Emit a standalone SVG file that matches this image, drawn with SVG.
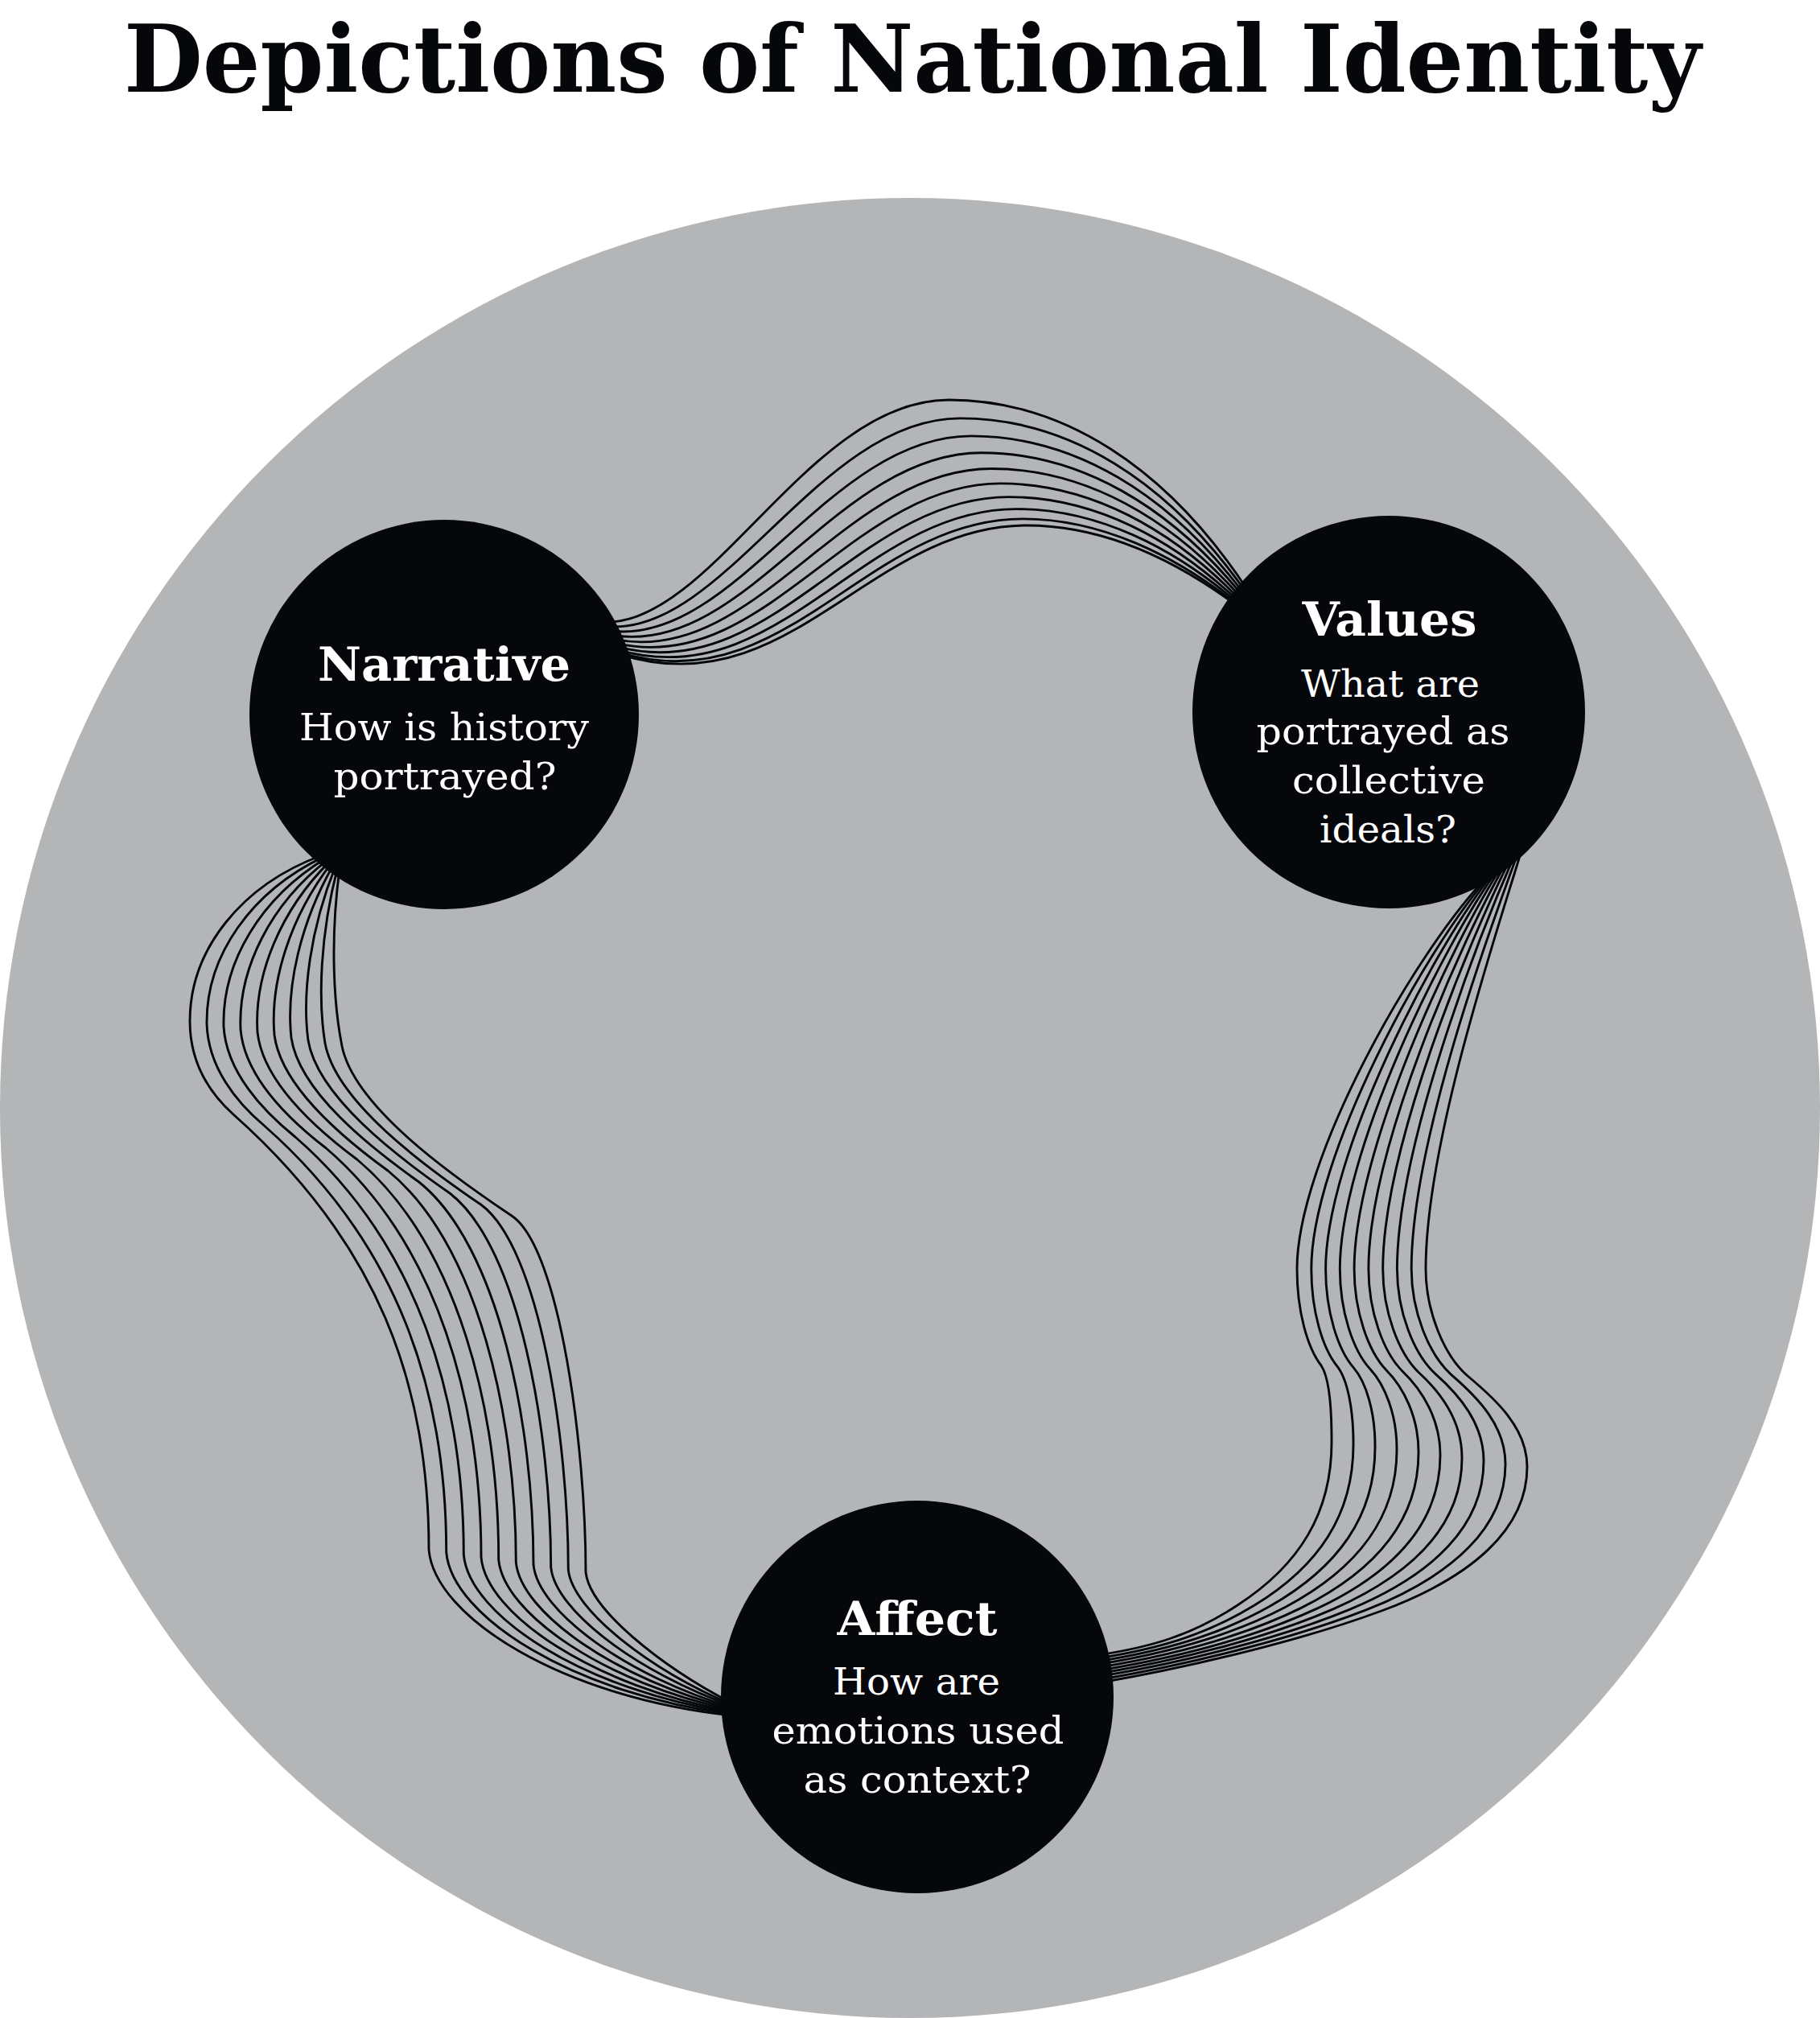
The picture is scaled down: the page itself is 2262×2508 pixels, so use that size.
<svg xmlns="http://www.w3.org/2000/svg" width="2262" height="2508" viewBox="0 0 2262 2508">
<style>
.bg{fill:#b4b5b7}
.node{fill:#05070a}
.ln{fill:none;stroke:#05070a;stroke-width:2.9;stroke-linecap:round}
.title{font-family:"DejaVu Serif","Liberation Serif",serif;font-weight:bold;font-size:116px;fill:#05070a}
.h{font-family:"DejaVu Serif","Liberation Serif",serif;font-weight:bold;font-size:58px;fill:#ffffff;text-anchor:middle}
.t{font-family:"DejaVu Serif","Liberation Serif",serif;font-size:47px;fill:#ffffff;text-anchor:middle}
</style>
<rect width="2262" height="2508" fill="#ffffff"/>
<text class="title" x="154" y="114" textLength="1960" lengthAdjust="spacingAndGlyphs">Depictions of National Identity</text>
<circle class="bg" cx="1131" cy="1377" r="1131"/>
<g id="connectors">
<g id="narrative-values">
<path class="ln" d="M760,773 C890,765 1010,497 1179,497 C1320,497 1450,580 1551,734"/>
<path class="ln" d="M761.5,778.9 C903.2,781.9 1020.3,519.9 1193.3,519.9 C1327.4,519.9 1451.5,596.9 1549.2,736.9"/>
<path class="ln" d="M762.9,784.5 C915.9,798.1 1030.2,541.9 1206.9,541.9 C1334.4,541.9 1452.9,613.1 1547.5,739.8"/>
<path class="ln" d="M764.2,789.9 C928,813.5 1039.5,562.8 1219.9,562.8 C1341.1,562.8 1454.2,628.5 1545.9,742.4"/>
<path class="ln" d="M765.5,794.9 C939.3,828 1048.4,582.5 1232.2,582.5 C1347.4,582.5 1455.5,643 1544.4,745"/>
<path class="ln" d="M766.7,799.6 C949.9,841.6 1056.6,600.9 1243.6,600.9 C1353.3,600.9 1456.7,656.6 1543,747.3"/>
<path class="ln" d="M767.7,803.9 C959.6,853.9 1064.1,617.6 1254,617.6 C1358.7,617.6 1457.7,668.9 1541.7,749.5"/>
<path class="ln" d="M768.7,807.8 C968.2,864.9 1070.8,632.6 1263.3,632.6 C1363.5,632.6 1458.7,679.9 1540.6,751.4"/>
<path class="ln" d="M769.5,810.9 C975.3,874 1076.4,644.9 1271,644.9 C1367.4,644.9 1459.5,689 1539.6,753"/>
<path class="ln" d="M770,813 C980,880 1080,653 1276,653 C1370,653 1460,695 1539,754"/>
</g>
<g id="narrative-affect">
<path class="ln" d="M400,1063 C300,1100 236,1180 236,1269 C236,1320 260,1358 290,1385 C470,1545 533,1720 533,1926 C540,2010 700,2110 910,2132"/>
<path class="ln" d="M402.4,1064.9 C312.2,1107.8 255.9,1187.8 257,1272.4 C258.7,1326.1 293.3,1369.3 328.4,1399 C495.1,1545.7 554.7,1728.9 554.7,1929.1 C561.4,2008.9 713.3,2105.6 910,2130.3"/>
<path class="ln" d="M404.9,1066.8 C324.4,1115.6 275.8,1195.6 278,1275.9 C281.3,1332.2 326.7,1380.7 366.9,1413 C520.2,1546.3 576.3,1737.8 576.3,1932.2 C582.9,2007.8 726.7,2101.1 910,2128.7"/>
<path class="ln" d="M407.3,1068.7 C336.7,1123.3 295.7,1203.3 299,1279.3 C304,1338.3 360,1392 405.3,1427 C545.3,1547 598,1746.7 598,1935.3 C604.3,2006.7 740,2096.7 910,2127"/>
<path class="ln" d="M409.8,1070.6 C348.9,1131.1 315.6,1211.1 320,1282.8 C326.7,1344.4 393.3,1403.3 443.8,1441 C570.4,1547.7 619.7,1755.6 619.7,1938.4 C625.8,2005.6 753.3,2092.2 910,2125.3"/>
<path class="ln" d="M412.2,1072.4 C361.1,1138.9 335.4,1218.9 341,1286.2 C349.3,1350.6 426.7,1414.7 482.2,1455 C595.6,1548.3 641.3,1764.4 641.3,1941.6 C647.2,2004.4 766.7,2087.8 910,2123.7"/>
<path class="ln" d="M414.7,1074.3 C373.3,1146.7 355.3,1226.7 362,1289.7 C372,1356.7 460,1426 520.7,1469 C620.7,1549 663,1773.3 663,1944.7 C668.7,2003.3 780,2083.3 910,2122"/>
<path class="ln" d="M417.1,1076.2 C385.6,1154.4 375.2,1234.4 383,1293.1 C394.7,1362.8 493.3,1437.3 559.1,1483 C645.8,1549.7 684.7,1782.2 684.7,1947.8 C690.1,2002.2 793.3,2078.9 910,2120.3"/>
<path class="ln" d="M419.6,1078.1 C397.8,1162.2 395.1,1242.2 404,1296.6 C417.3,1368.9 526.7,1448.7 597.6,1497 C670.9,1550.3 706.3,1791.1 706.3,1950.9 C711.6,2001.1 806.7,2074.4 910,2118.7"/>
<path class="ln" d="M422,1080 C410,1170 415,1250 425,1300 C440,1375 560,1460 636,1511 C696,1551 728,1800 728,1954 C733,2000 820,2070 910,2117"/>
</g>
<g id="values-affect">
<path class="ln" d="M1850,1088 C1760,1180 1612,1440 1612,1577 C1612,1630 1625,1675 1642,1697 C1652,1712 1655,1750 1655,1789 C1656,1880 1615,1945 1538,1995 C1480,2033 1430,2047 1365,2057"/>
<path class="ln" d="M1854.6,1084.6 C1771.1,1177.8 1629.8,1437.8 1629.8,1577 C1629.8,1630 1643.9,1676.1 1662.2,1698.4 C1675.1,1715.1 1682,1752.8 1682,1792.8 C1682.9,1882.2 1638.9,1946.7 1557.9,1995.8 C1495.6,2033.6 1435.6,2049.8 1365.3,2060.8"/>
<path class="ln" d="M1859.1,1081.1 C1782.2,1175.6 1647.6,1435.6 1647.6,1577 C1647.6,1630 1662.8,1677.2 1682.4,1699.9 C1698.2,1718.2 1709,1755.6 1709,1796.6 C1709.8,1884.4 1662.8,1948.3 1577.8,1996.6 C1511.1,2034.1 1441.1,2052.6 1365.7,2064.6"/>
<path class="ln" d="M1863.7,1077.7 C1793.3,1173.3 1665.3,1433.3 1665.3,1577 C1665.3,1630 1681.7,1678.3 1702.7,1701.3 C1721.3,1721.3 1736,1758.3 1736,1800.3 C1736.7,1886.7 1686.7,1950 1597.7,1997.3 C1526.7,2034.7 1446.7,2055.3 1366,2068.3"/>
<path class="ln" d="M1868.2,1074.2 C1804.4,1171.1 1683.1,1431.1 1683.1,1577 C1683.1,1630 1700.6,1679.4 1722.9,1702.8 C1744.4,1724.4 1763,1761.1 1763,1804.1 C1763.6,1888.9 1710.6,1951.7 1617.6,1998.1 C1542.2,2035.2 1452.2,2058.1 1366.3,2072.1"/>
<path class="ln" d="M1872.8,1070.8 C1815.6,1168.9 1700.9,1428.9 1700.9,1577 C1700.9,1630 1719.4,1680.6 1743.1,1704.2 C1767.6,1727.6 1790,1763.9 1790,1807.9 C1790.4,1891.1 1734.4,1953.3 1637.4,1998.9 C1557.8,2035.8 1457.8,2060.9 1366.7,2075.9"/>
<path class="ln" d="M1877.3,1067.3 C1826.7,1166.7 1718.7,1426.7 1718.7,1577 C1718.7,1630 1738.3,1681.7 1763.3,1705.7 C1790.7,1730.7 1817,1766.7 1817,1811.7 C1817.3,1893.3 1758.3,1955 1657.3,1999.7 C1573.3,2036.3 1463.3,2063.7 1367,2079.7"/>
<path class="ln" d="M1881.9,1063.9 C1837.8,1164.4 1736.4,1424.4 1736.4,1577 C1736.4,1630 1757.2,1682.8 1783.6,1707.1 C1813.8,1733.8 1844,1769.4 1844,1815.4 C1844.2,1895.6 1782.2,1956.7 1677.2,2000.4 C1588.9,2036.9 1468.9,2066.4 1367.3,2083.4"/>
<path class="ln" d="M1886.4,1060.4 C1848.9,1162.2 1754.2,1422.2 1754.2,1577 C1754.2,1630 1776.1,1683.9 1803.8,1708.6 C1836.9,1736.9 1871,1772.2 1871,1819.2 C1871.1,1897.8 1806.1,1958.3 1697.1,2001.2 C1604.4,2037.4 1474.4,2069.2 1367.7,2087.2"/>
<path class="ln" d="M1891,1057 C1860,1160 1772,1420 1772,1577 C1772,1630 1795,1685 1824,1710 C1860,1740 1898,1775 1898,1823 C1898,1900 1830,1960 1717,2002 C1620,2038 1480,2072 1368,2091"/>
</g>
</g>
<g id="narrative">
<circle class="node" cx="552" cy="888" r="242"/>
<text class="h" x="552" y="846" textLength="314" lengthAdjust="spacingAndGlyphs">Narrative</text>
<text class="t" x="552" y="920" textLength="360" lengthAdjust="spacingAndGlyphs">How is history</text>
<text class="t" x="553" y="981" textLength="277" lengthAdjust="spacingAndGlyphs">portrayed?</text>
</g>
<g id="values">
<circle class="node" cx="1726" cy="885" r="244"/>
<text class="h" x="1727" y="790" textLength="217" lengthAdjust="spacingAndGlyphs">Values</text>
<text class="t" x="1728" y="866" textLength="222" lengthAdjust="spacingAndGlyphs">What are</text>
<text class="t" x="1719" y="925" textLength="315" lengthAdjust="spacingAndGlyphs">portrayed as</text>
<text class="t" x="1726" y="986" textLength="240" lengthAdjust="spacingAndGlyphs">collective</text>
<text class="t" x="1725" y="1047" textLength="170" lengthAdjust="spacingAndGlyphs">ideals?</text>
</g>
<g id="affect">
<circle class="node" cx="1140" cy="2109" r="244"/>
<text class="h" x="1140" y="2032" textLength="199" lengthAdjust="spacingAndGlyphs">Affect</text>
<text class="t" x="1139" y="2106" textLength="208" lengthAdjust="spacingAndGlyphs">How are</text>
<text class="t" x="1141" y="2167" textLength="363" lengthAdjust="spacingAndGlyphs">emotions used</text>
<text class="t" x="1140" y="2228" textLength="283" lengthAdjust="spacingAndGlyphs">as context?</text>
</g>
</svg>
